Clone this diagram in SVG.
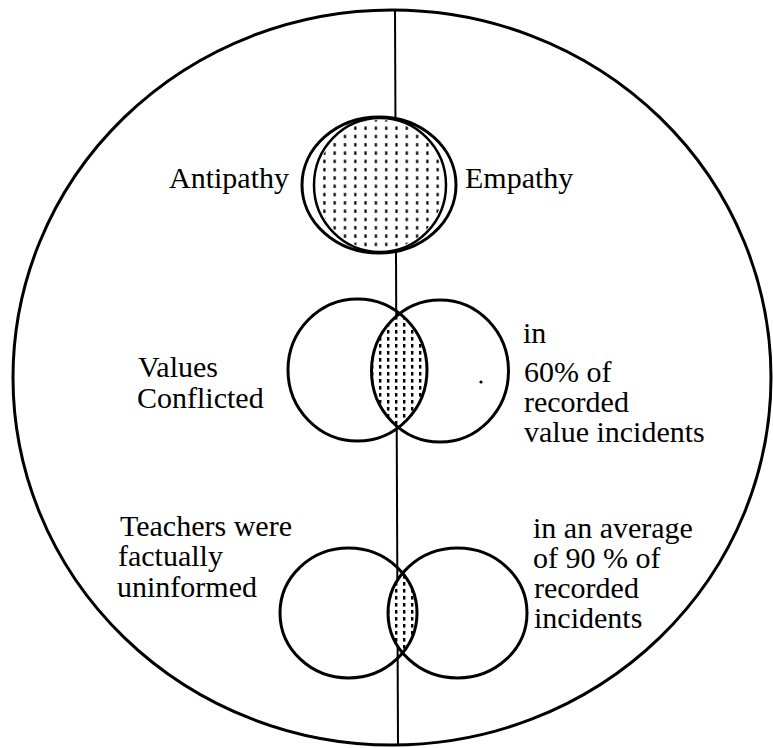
<svg xmlns="http://www.w3.org/2000/svg" width="773" height="748" viewBox="0 0 773 748">
  <style>
    .ln { fill: none; stroke: #000; stroke-width: 3; }
    .wf { fill: #fff; stroke: #000; stroke-width: 3; }
    .t { font-family: "Liberation Serif", "Times New Roman", serif; font-size: 30px; fill: #000; }
  </style>
  <defs>
    <pattern id="dots" patternUnits="userSpaceOnUse" width="10.3" height="8.3">
      <rect x="4" y="2" width="2.2" height="3.4" fill="#000"/>
    </pattern>
    <pattern id="dots2" patternUnits="userSpaceOnUse" width="8" height="7">
      <rect x="3" y="1" width="2.4" height="3.6" fill="#000"/>
    </pattern>
    <clipPath id="cMidL"><ellipse cx="357.5" cy="370" rx="69.5" ry="71"/></clipPath>
    <clipPath id="cMidR"><ellipse cx="440" cy="371" rx="68.5" ry="71"/></clipPath>
    <clipPath id="cBotL"><ellipse cx="348.5" cy="613" rx="68.5" ry="65"/></clipPath>
    <clipPath id="cBotR"><ellipse cx="457.5" cy="613" rx="69.5" ry="65"/></clipPath>
  </defs>
  <rect width="773" height="748" fill="#fff"/>

  <g id="outer-circle">
    <ellipse class="ln" cx="392" cy="377.5" rx="379" ry="367.5"/>
  </g>

  <g id="connectors">
    <line x1="395" y1="10" x2="398" y2="745" stroke="#000" stroke-width="2"/>
  </g>

  <g id="antipathy-empathy">
    <ellipse class="wf" cx="379" cy="185" rx="77" ry="68"/>
    <ellipse cx="380" cy="185" rx="66" ry="67" fill="#fff" stroke="#000" stroke-width="2.5"/>
    <ellipse cx="380" cy="185" rx="64" ry="65" fill="url(#dots)"/>
    <text class="t" x="169" y="188">Antipathy</text>
    <text class="t" x="465" y="188">Empathy</text>
  </g>

  <g id="values-conflicted">
    <g clip-path="url(#cMidL)">
      <ellipse cx="440" cy="371" rx="68.5" ry="71" fill="#fff"/>
      <ellipse cx="440" cy="371" rx="68.5" ry="71" fill="url(#dots2)"/>
    </g>
    <ellipse class="ln" cx="357.5" cy="370" rx="69.5" ry="71"/>
    <ellipse class="ln" cx="440" cy="371" rx="68.5" ry="71"/>
    <circle cx="481" cy="382" r="1.6" fill="#000"/>
    <text class="t" x="138" y="377">Values</text>
    <text class="t" x="137" y="408">Conflicted</text>
    <text class="t" x="523" y="343">in</text>
    <text class="t" x="524" y="382">60% of</text>
    <text class="t" x="524" y="412">recorded</text>
    <text class="t" x="524" y="442">value incidents</text>
  </g>

  <g id="factually-uninformed">
    <g clip-path="url(#cBotL)">
      <ellipse cx="457.5" cy="613" rx="69.5" ry="65" fill="#fff"/>
      <ellipse cx="457.5" cy="613" rx="69.5" ry="65" fill="url(#dots2)"/>
    </g>
    <ellipse class="ln" cx="348.5" cy="613" rx="68.5" ry="65"/>
    <ellipse class="ln" cx="457.5" cy="613" rx="69.5" ry="65"/>
    <text class="t" x="120" y="536">Teachers were</text>
    <text class="t" x="118" y="566">factually</text>
    <text class="t" x="117" y="597">uninformed</text>
    <text class="t" x="533" y="538">in an average</text>
    <text class="t" x="533" y="568">of 90 % of</text>
    <text class="t" x="534" y="598">recorded</text>
    <text class="t" x="534" y="628">incidents</text>
  </g>
</svg>
